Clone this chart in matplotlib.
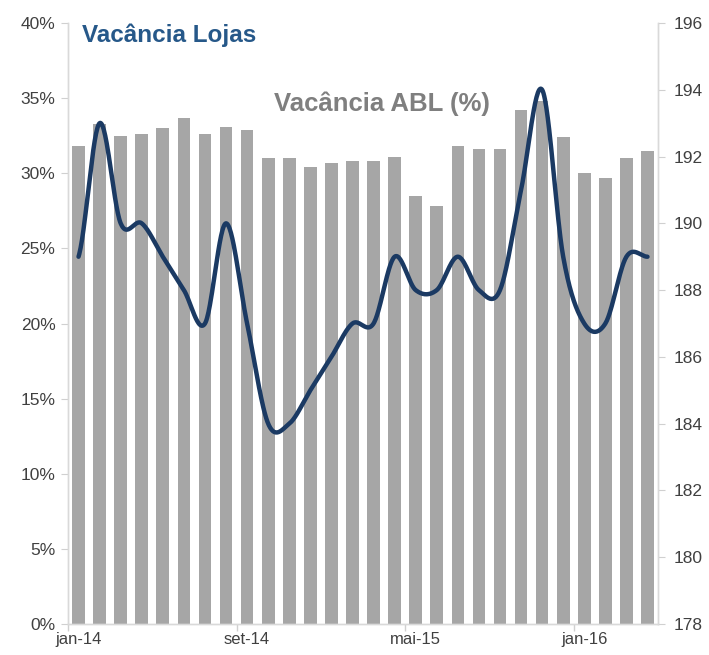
import numpy as np
import matplotlib
matplotlib.use("Agg")
import matplotlib.pyplot as plt
from matplotlib.ticker import FixedLocator

plt.rcParams['font.family'] = ['Liberation Sans', 'DejaVu Sans']

months = ["jan-14", "fev-14", "mar-14", "abr-14", "mai-14", "jun-14", "jul-14", "ago-14",
          "set-14", "out-14", "nov-14", "dez-14", "jan-15", "fev-15", "mar-15", "abr-15",
          "mai-15", "jun-15", "jul-15", "ago-15", "set-15", "out-15", "nov-15", "dez-15",
          "jan-16", "fev-16", "mar-16", "abr-16"]
vacancia_abl = [31.8, 33.3, 32.5, 32.6, 33.0, 33.7, 32.6, 33.05, 32.9, 31.0, 31.0, 30.4, 30.7, 30.8,
                30.8, 31.1, 28.5, 27.8, 31.8, 31.6, 31.6, 34.2, 34.8, 32.4, 30.0, 29.7, 31.0, 31.5]
vacancia_lojas = [189, 193, 190, 190, 189, 188, 187, 190, 187, 184, 184, 185, 186, 187,
                  187, 189, 188, 188, 189, 188, 188, 191, 194, 189, 187, 187, 189, 189]
tick_labels_shown = ["jan-14", "set-14", "mai-15", "jan-16"]


def catmull_rom(x, y, n=30):
    x = np.asarray(x, float)
    y = np.asarray(y, float)
    xs, ys = [], []
    for i in range(len(x) - 1):
        y0 = y[i - 1] if i > 0 else y[i]
        y3 = y[i + 2] if i + 2 < len(y) else y[i + 1]
        m1 = (y[i + 1] - y0) / 2.0
        m2 = (y3 - y[i]) / 2.0
        t = np.linspace(0, 1, n, endpoint=False)
        h00 = 2 * t**3 - 3 * t**2 + 1
        h10 = t**3 - 2 * t**2 + t
        h01 = -2 * t**3 + 3 * t**2
        h11 = t**3 - t**2
        xs.append(x[i] + t * (x[i + 1] - x[i]))
        ys.append(h00 * y[i] + h10 * m1 + h01 * y[i + 1] + h11 * m2)
    xs.append([x[-1]])
    ys.append([y[-1]])
    return np.concatenate(xs), np.concatenate(ys)


fig = plt.figure(figsize=(7.09, 6.55), dpi=100)
ax = fig.add_axes([0.0959, 0.0473, 0.8322, 0.9176])
ax2 = ax.twinx()

x = np.arange(len(months))
ax.bar(x, vacancia_abl, width=0.6, color='#a6a6a6', zorder=2)
ax.set_xlim(-0.5, len(months) - 0.5)
ax.set_ylim(0, 40)
ax.set_yticks(np.arange(0, 41, 5))
ax.set_yticklabels([f"{v}%" for v in range(0, 41, 5)])

idx = [months.index(m) for m in tick_labels_shown]
ax.set_xticks(idx)
ax.set_xticklabels(tick_labels_shown)
ax.xaxis.set_minor_locator(FixedLocator([-0.5, 7.5, 15.5, 23.5]))
ax.tick_params(axis='x', which='major', length=0, pad=6, labelsize=12, colors='#404040')
ax.tick_params(axis='x', which='minor', length=5, color='#d0d0d0', width=1)
ax.tick_params(axis='y', length=5, color='#d0d0d0', labelsize=12.5, labelcolor='#404040', pad=4)

sx, sy = catmull_rom(x, vacancia_lojas)
ax2.plot(sx, sy, color='#1b3a63', lw=3.2, solid_capstyle='round', zorder=3)
ax2.set_ylim(178, 196)
ax2.set_yticks(np.arange(178, 197, 2))
ax2.tick_params(axis='y', length=5, color='#d0d0d0', labelsize=12.5, labelcolor='#404040', pad=6)

for a in (ax, ax2):
    a.spines['top'].set_visible(False)
    for s in ('left', 'right', 'bottom'):
        a.spines[s].set_color('#d9d9d9')
        a.spines[s].set_linewidth(1)

fig.text(82 / 709, 1 - 35 / 655, "Vacância Lojas", color='#265889', fontsize=17.5,
         fontweight='bold', ha='left', va='center')
fig.text(382 / 709, 1 - 104 / 655, "Vacância ABL (%)", color='#7f7f7f', fontsize=18.5,
         fontweight='bold', ha='center', va='center')

fig.savefig("out.png", dpi=100)
